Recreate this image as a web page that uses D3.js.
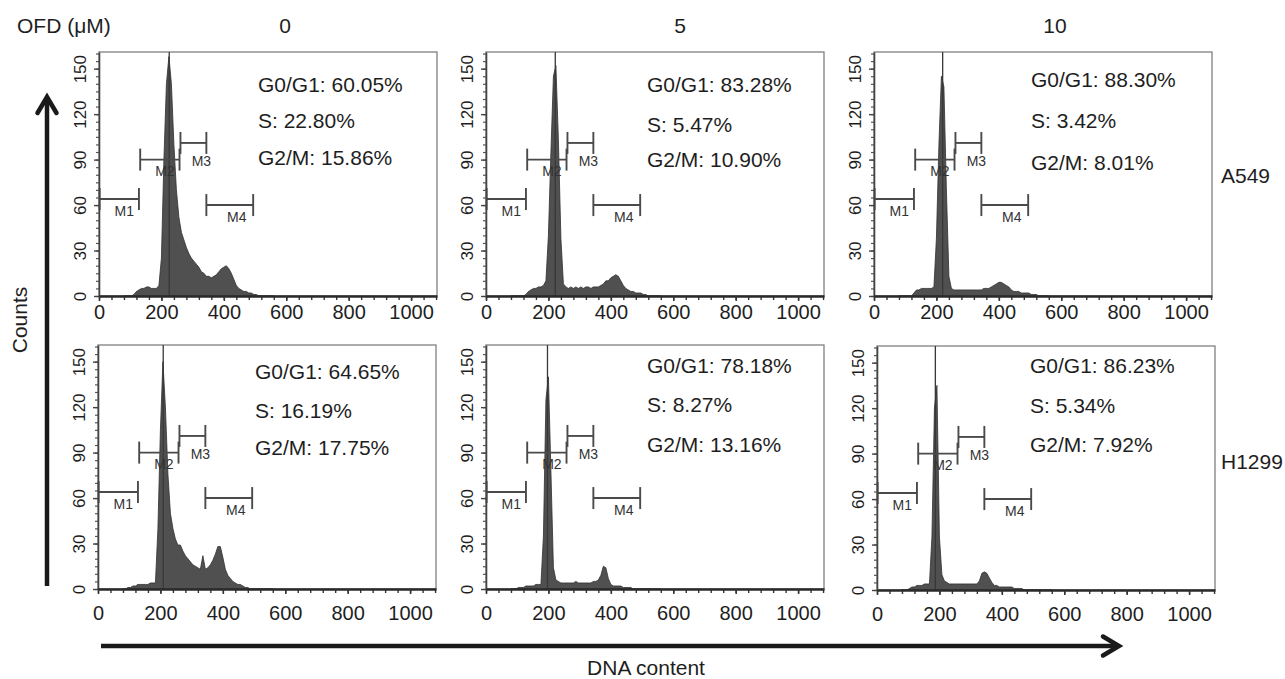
<!DOCTYPE html>
<html><head><meta charset="utf-8">
<script src="https://cdn.jsdelivr.net/npm/d3@7"></script>
<style>
body{margin:0;background:#fff;}
svg text{font-family:"Liberation Sans", Arial, Helvetica, sans-serif;fill:#1e1e1e;}
</style></head><body>
<svg id="chart" width="1285" height="679"></svg>
<script>
// ---------------- DATA ----------------
const doses = ["0", "5", "10"];
const cellLines = ["A549", "H1299"];
const channels = d3.range(80, 561, 8); // histogram bins (DNA content channel)

const countsA549_0 = [0,0,0,0,1,3,4,5,5,6, 6,5,5,5,7,25,90,140,158,140, 100,70,52,42,37,32,28,25,23,21, 19,16,15,13,13,12,13,14,16,18, 19,20,18,15,11,7,5,4,3,3, 2,2,1,1,0,0,0,0,0,0, 0];
const countsA549_5 = [0,0,0,0,0,0,1,3,4,5, 5,6,6,7,10,40,95,145,152,103, 38,8,6,5,6,5,6,5,6,5, 6,6,5,6,6,6,7,8,10,10, 12,13,14,13,10,7,5,4,3,3, 2,2,2,1,1,0,0,0,0,0, 0];
const countsA549_10 = [0,0,0,0,0,0,2,4,4,5, 5,5,5,5,6,38,100,145,138,70, 13,5,4,4,4,4,4,4,4,4, 4,4,4,4,5,5,5,6,7,8, 9,9,8,7,6,4,3,3,3,2, 2,2,2,1,1,1,0,0,0,0, 0];
const countsH1299_0 = [0,0,1,1,2,2,3,3,3,3, 3,4,4,4,40,105,150,120,76,50, 40,33,29,29,25,22,20,18,16,15, 14,13,22,13,14,16,19,23,28,28, 21,13,9,7,5,4,3,3,2,1, 1,0,0,0,0,0,0,0,0,0, 0];
const countsH1299_5 = [0,0,0,1,1,1,2,2,2,2, 3,3,3,35,125,140,78,14,6,5, 4,4,4,4,4,4,5,4,4,4, 4,4,4,5,5,6,9,15,14,7, 3,2,2,2,2,1,1,1,1,0, 0,0,0,0,0,0,0,0,0,0, 0];
const countsH1299_10 = [0,0,0,1,2,2,3,3,3,4, 4,4,35,120,135,35,10,6,5,4, 4,4,4,4,4,4,4,4,4,4, 4,6,11,12,11,8,5,3,3,2, 2,2,2,2,2,1,1,1,1,0, 0,0,0,0,0,0,0,0,0,0, 0];
const countSeries = [[countsA549_0, countsA549_5, countsA549_10],
                     [countsH1299_0, countsH1299_5, countsH1299_10]];

// off-scale G0/G1 peak bin (channel, count)
const peakChannels = [[225, 222, 220], [209, 197, 187]];
const peakCounts = [[175, 175, 175], [175, 175, 175]];

const g1Pct = [["60.05%", "83.28%", "88.30%"], ["64.65%", "78.18%", "86.23%"]];
const sPct  = [["22.80%", "5.47%", "3.42%"], ["16.19%", "8.27%", "5.34%"]];
const g2Pct = [["15.86%", "10.90%", "8.01%"], ["17.75%", "13.16%", "7.92%"]];

const markerNames = ["M1", "M2", "M3", "M4"];
const markerStart = [2, 132, 261, 344];
const markerEnd   = [128, 258, 344, 494];
const markerLevel = [64, 90, 101, 60];

const xTicks = [0, 200, 400, 600, 800, 1000];
const yTicks = [0, 30, 60, 90, 120, 150];
const xMax = 1083, yMax = 161;

// ---------------- LAYOUT ----------------
const W = 338, H = 244;
const frames = [
  [{x: 99, y: 52}, {x: 486, y: 52}, {x: 874, y: 52}],
  [{x: 98, y: 345}, {x: 486, y: 345}, {x: 877, y: 346}]
];
const statsX = [[258, 647, 1031], [255, 647, 1030]];
const statsY = [[[92, 128, 165], [92, 132, 167], [87, 128, 170]],
                [[379, 418, 455], [373, 412, 452], [373, 413, 452]]];
const markerLabelDx = [5, 5, 8, 7];
const markerLabelDy = [17, 16.5, 23, 17];
const xLabelOffset = [23, 31];

const svg = d3.select("#chart");
const FONT = '"Liberation Sans", Arial, Helvetica, sans-serif';

// Header
svg.append("text").attr("x", 17).attr("y", 33).attr("font-size", 21).text("OFD (\u03bcM)");
const headerX = [285, 680, 1055];
doses.forEach((d, i) => {
  svg.append("text").attr("x", headerX[i]).attr("y", 33).attr("font-size", 21)
    .attr("text-anchor", "middle").text(d);
});
// Row labels
const rowLabelY = [183, 469];
cellLines.forEach((c, i) => {
  svg.append("text").attr("x", 1221).attr("y", rowLabelY[i]).attr("font-size", 21).text(c);
});

// Big arrows
const arrowColor = "#1a1a1a";
svg.append("line").attr("x1", 47).attr("x2", 47).attr("y1", 586).attr("y2", 98)
  .attr("stroke", arrowColor).attr("stroke-width", 4.5);
svg.append("path").attr("d", "M37.5,113 L47,97 L56.5,113").attr("fill", "none")
  .attr("stroke", arrowColor).attr("stroke-width", 4.5).attr("stroke-linecap", "round").attr("stroke-linejoin", "miter");
svg.append("line").attr("x1", 101).attr("x2", 1117).attr("y1", 646).attr("y2", 646)
  .attr("stroke", arrowColor).attr("stroke-width", 4.5);
svg.append("path").attr("d", "M1103,636.5 L1119,646 L1103,655.5").attr("fill", "none")
  .attr("stroke", arrowColor).attr("stroke-width", 4.5).attr("stroke-linecap", "round");

svg.append("text").attr("transform", "translate(27,320) rotate(-90)").attr("text-anchor", "middle")
  .attr("font-size", 21).text("Counts");
svg.append("text").attr("x", 646).attr("y", 675).attr("text-anchor", "middle")
  .attr("font-size", 21).text("DNA content");

// Panels
cellLines.forEach((cl, r) => {
  doses.forEach((dose, c) => {
    const f = frames[r][c];
    const g = svg.append("g").attr("transform", `translate(${f.x},${f.y})`);
    const x = d3.scaleLinear().domain([0, xMax]).range([0, W]);
    const y = d3.scaleLinear().domain([0, yMax]).range([H, 0]);
    const clipId = `clip-${r}-${c}`;
    g.append("clipPath").attr("id", clipId).append("rect").attr("width", W).attr("height", H);

    // frame
    g.append("rect").attr("width", W).attr("height", H).attr("fill", "none")
      .attr("stroke", "#808080").attr("stroke-width", 1.3);

    // histogram
    const vals = countSeries[r][c];
    const data = channels.map((ch, i) => ({c: ch, v: vals[i]}));
    const area = d3.area().x(d => x(d.c)).y0(y(0)).y1(d => y(d.v));
    g.append("path").datum(data).attr("d", area).attr("clip-path", `url(#${clipId})`)
      .attr("fill", "#505050").attr("stroke", "#303030").attr("stroke-width", 0.8);
    // off-scale peak bin
    g.append("line").attr("clip-path", `url(#${clipId})`)
      .attr("x1", x(peakChannels[r][c])).attr("x2", x(peakChannels[r][c]))
      .attr("y1", y(0)).attr("y2", y(peakCounts[r][c]))
      .attr("stroke", "#383838").attr("stroke-width", 1.3);

    // markers
    markerNames.forEach((m, k) => {
      const mg = g.append("g").attr("stroke", "#4a4a4a").attr("stroke-width", 1.9);
      const yy = y(markerLevel[k]);
      mg.append("line").attr("x1", x(markerStart[k])).attr("x2", x(markerEnd[k])).attr("y1", yy).attr("y2", yy);
      mg.append("line").attr("x1", x(markerStart[k])).attr("x2", x(markerStart[k])).attr("y1", yy - 11).attr("y2", yy + 11);
      mg.append("line").attr("x1", x(markerEnd[k])).attr("x2", x(markerEnd[k])).attr("y1", yy - 11).attr("y2", yy + 11);
      g.append("text").attr("x", x((markerStart[k] + markerEnd[k]) / 2) + markerLabelDx[k])
        .attr("y", yy + markerLabelDy[k]).attr("text-anchor", "middle")
        .attr("font-size", 14).style("fill", "#333").text(m);
    });

    // y axis: minor then major
    const yMinor = g.append("g").call(d3.axisLeft(y).tickValues(d3.range(0, yMax, 5)).tickSize(3).tickFormat("").tickSizeOuter(0));
    yMinor.select(".domain").remove();
    yMinor.selectAll("line").attr("stroke", "#555").attr("stroke-width", 1.2);
    const yAx = g.append("g").call(d3.axisLeft(y).tickValues(yTicks).tickSize(5).tickSizeOuter(0).tickFormat(d3.format("d")));
    yAx.select(".domain").attr("stroke", "#444").attr("stroke-width", 1.6);
    yAx.selectAll("line").attr("stroke", "#444").attr("stroke-width", 1.4);
    yAx.selectAll("text").attr("transform", "rotate(-90)").attr("x", 0).attr("y", -19)
      .attr("dy", "0.35em").attr("text-anchor", "middle")
      .attr("font-size", 17).attr("font-family", FONT).style("fill", "#1e1e1e");
    yAx.attr("font-family", FONT);

    // x axis: minor then major
    const xMinor = g.append("g").attr("transform", `translate(0,${H})`)
      .call(d3.axisBottom(x).tickValues(d3.range(0, xMax, 40)).tickSize(4).tickFormat("").tickSizeOuter(0));
    xMinor.select(".domain").remove();
    xMinor.selectAll("line").attr("stroke", "#333").attr("stroke-width", 1.4);
    const xAx = g.append("g").attr("transform", `translate(0,${H})`)
      .call(d3.axisBottom(x).tickValues(xTicks).tickSize(5).tickSizeOuter(0).tickFormat(d3.format("d")));
    xAx.select(".domain").attr("stroke", "#2a2a2a").attr("stroke-width", 2.6);
    xAx.selectAll("line").attr("stroke", "#333").attr("stroke-width", 1.5);
    xAx.selectAll("text").attr("y", xLabelOffset[r]).attr("dy", 0)
      .attr("font-size", 20).attr("font-family", FONT).style("fill", "#1e1e1e");

    // stats text (absolute positions)
    const lines = [`G0/G1: ${g1Pct[r][c]}`, `S: ${sPct[r][c]}`, `G2/M: ${g2Pct[r][c]}`];
    lines.forEach((t, k) => {
      svg.append("text").attr("x", statsX[r][c]).attr("y", statsY[r][c][k])
        .attr("font-size", 21).text(t);
    });
  });
});
</script>
</body></html>
